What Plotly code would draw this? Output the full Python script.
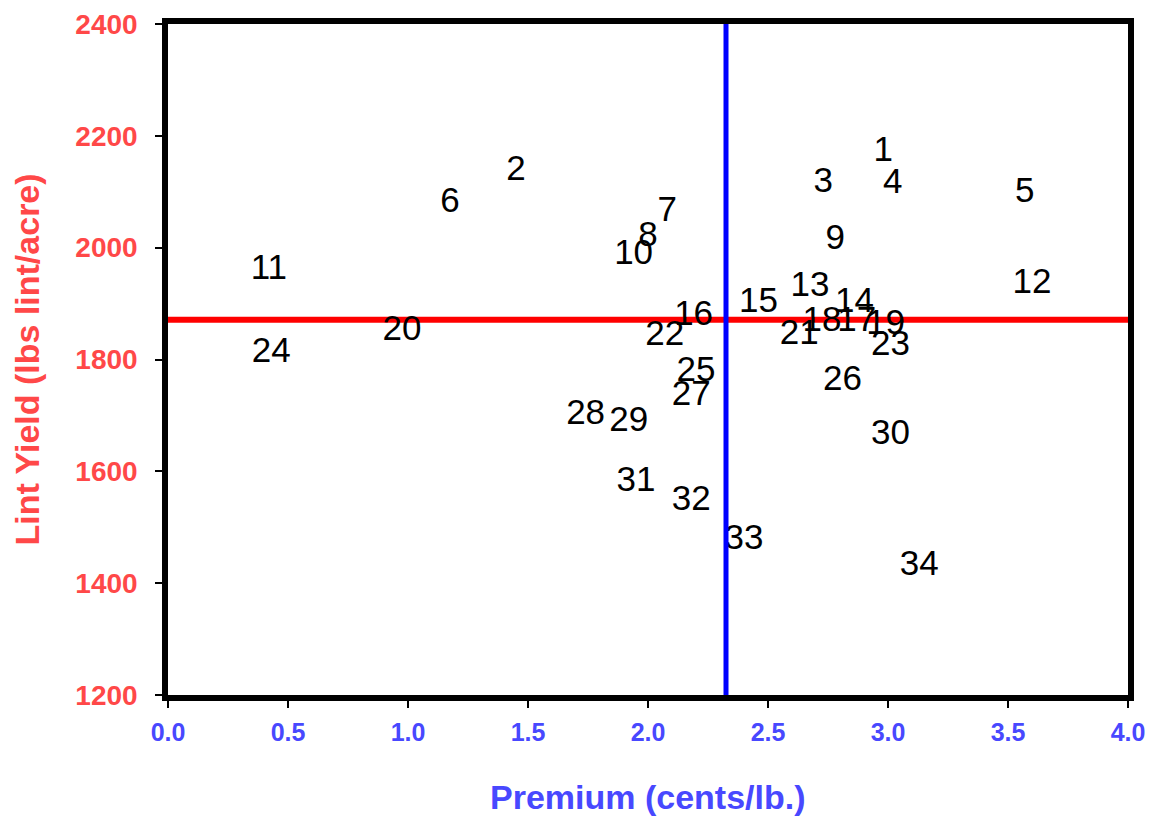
import plotly.graph_objects as go

labels = [str(i) for i in range(1, 35)]
premium = [2.98, 1.45, 2.73, 3.02, 3.57, 1.175, 2.08, 2.00, 2.78, 1.94,
           0.42, 3.60, 2.675, 2.86, 2.46, 2.19, 2.87, 2.725, 2.99, 0.975,
           2.63, 2.07, 3.01, 0.43, 2.20, 2.81, 2.18, 1.74, 1.92, 3.01,
           1.95, 2.18, 2.40, 3.13]
yield_lbs = [2170, 2137, 2116, 2114, 2098, 2080, 2064, 2018, 2014, 1987,
             1959, 1935, 1930, 1901, 1900, 1878, 1866, 1866, 1862, 1851,
             1844, 1842, 1823, 1812, 1778, 1762, 1735, 1701, 1687, 1665,
             1580, 1547, 1476, 1431]
mean_yield = 1871
mean_premium = 2.325

x_ticks = [0.0, 0.5, 1.0, 1.5, 2.0, 2.5, 3.0, 3.5, 4.0]
y_ticks = [1200, 1400, 1600, 1800, 2000, 2200, 2400]
x_title = "Premium (cents/lb.)"
y_title = "Lint Yield (lbs lint/acre)"

fig = go.Figure()
fig.add_trace(go.Scatter(
    x=premium, y=yield_lbs, text=labels, mode="text",
    textposition="middle center",
    textfont=dict(family="Liberation Sans, Arial, sans-serif", size=35, color="black"),
    hoverinfo="skip", showlegend=False))

fig.add_hline(y=mean_yield, line=dict(color="#ff0000", width=6), layer="below")
fig.add_vline(x=mean_premium, line=dict(color="#0000ff", width=5), layer="above")

fig.add_annotation(
    text=x_title, xref="paper", yref="paper", x=0.5, y=0,
    xanchor="center", yanchor="middle", yshift=-102, showarrow=False,
    font=dict(family="Liberation Sans Narrow, Liberation Sans, Arial, sans-serif",
              size=34, color="#4848ff", weight="bold"))

fig.update_layout(
    width=1138, height=809,
    margin=dict(l=160, r=18, t=16, b=122, autoexpand=False),
    paper_bgcolor="white", plot_bgcolor="white",
    showlegend=False,
)
fig.update_xaxes(
    range=[0, 4], tickvals=x_ticks, ticktext=[f"{v:.1f}" for v in x_ticks],
    showgrid=False, zeroline=False, showline=True, mirror=True,
    linecolor="black", linewidth=5.5, ticks="outside", ticklen=7, tickwidth=1.5,
    tickcolor="black", ticklabelstandoff=3, ticklabeloverflow="allow",
    tickfont=dict(family="Liberation Sans Narrow, Liberation Sans, Arial, sans-serif",
                  size=25, color="#4848ff", weight="bold"),
)
fig.update_yaxes(
    range=[1200, 2400], tickvals=y_ticks,
    showgrid=False, zeroline=False, showline=True, mirror=True,
    linecolor="black", linewidth=5.5, ticks="outside", ticklen=7, tickwidth=1.5,
    tickcolor="black", ticklabelstandoff=12, ticklabeloverflow="allow",
    tickfont=dict(family="Liberation Sans, Arial, sans-serif", size=28,
                  color="#ff4848", weight="bold"),
    title=dict(text=y_title, standoff=28,
               font=dict(family="Liberation Sans, Arial, sans-serif", size=34,
                         color="#ff4848", weight="bold")),
)

fig.write_html("out.html")
